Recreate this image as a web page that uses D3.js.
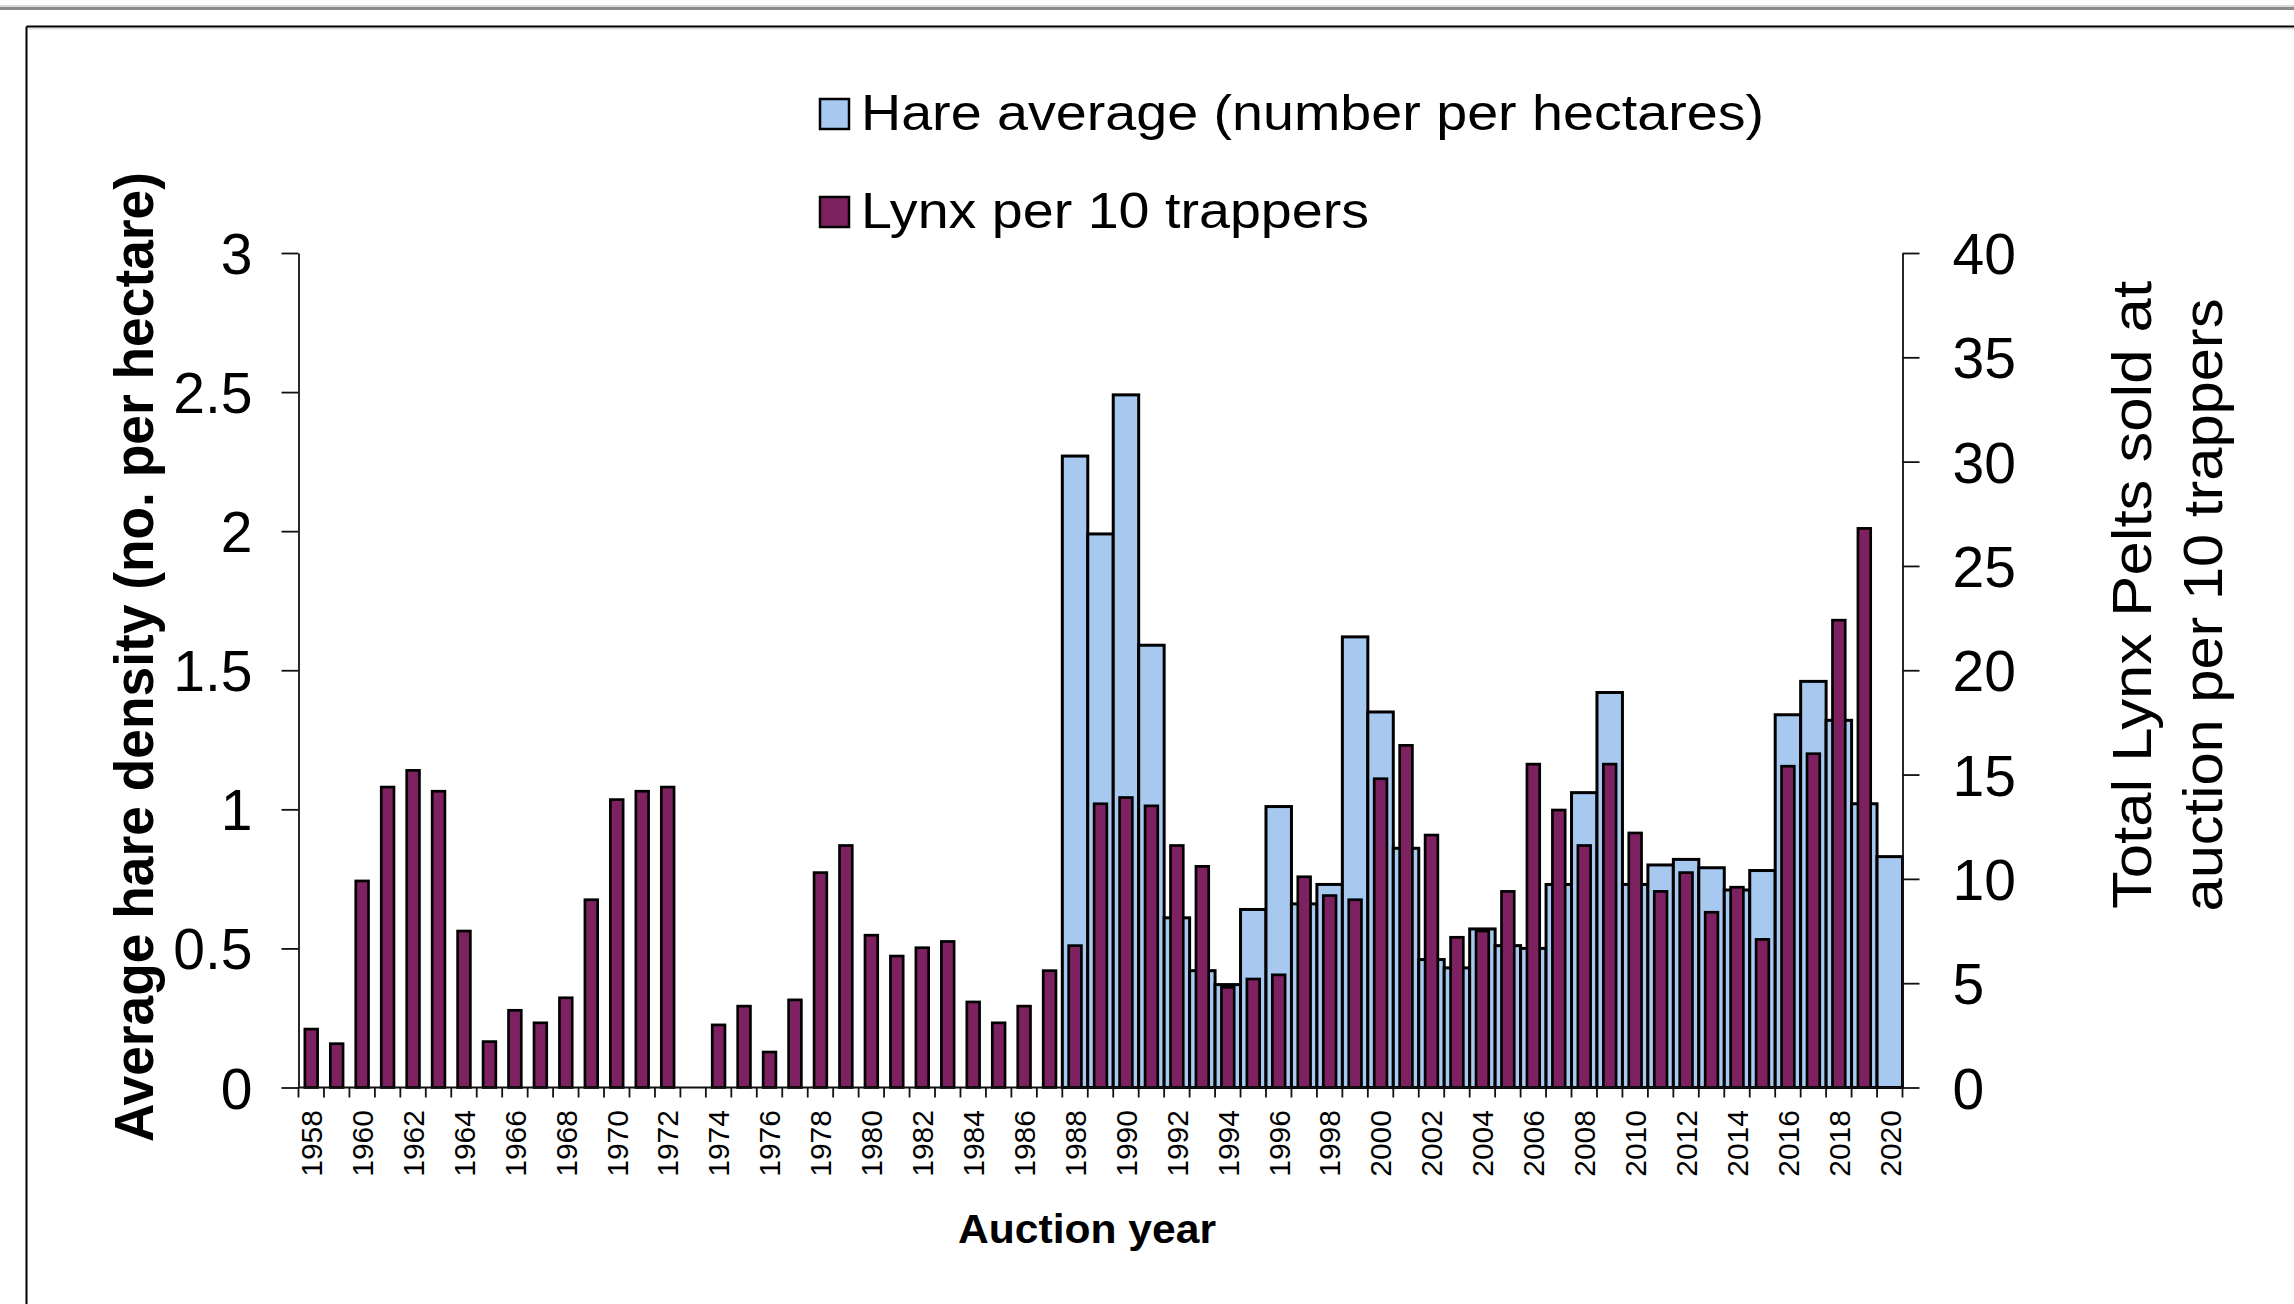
<!DOCTYPE html>
<html><head><meta charset="utf-8">
<script src="https://cdn.jsdelivr.net/npm/d3@7"></script>
<style>
body{margin:0;background:#fff}
svg{display:block}
text{font-family:"Liberation Sans",Arial,sans-serif;fill:#000}
</style>
</head><body>
<svg id="c" width="2294" height="1304"></svg>
<script>
const years = [1958,1959,1960,1961,1962,1963,1964,1965,1966,1967,1968,1969,1970,1971,1972,1973,1974,1975,1976,1977,1978,1979,1980,1981,1982,1983,1984,1985,1986,1987,1988,1989,1990,1991,1992,1993,1994,1995,1996,1997,1998,1999,2000,2001,2002,2003,2004,2005,2006,2007,2008,2009,2010,2011,2012,2013,2014,2015,2016,2017,2018,2019,2020];
// Hare average (number per hectares), left axis
const hare = [null,null,null,null,null,null,null,null,null,null,null,null,null,null,null,null,null,null,null,null,null,null,null,null,null,null,null,null,null,null,
  2.27,1.99,2.49,1.59,0.61,0.42,0.37,0.64,1.01,0.66,0.73,1.62,1.35,0.86,0.46,0.43,0.57,0.51,0.50,0.73,1.06,1.42,0.73,0.80,0.82,0.79,0.71,0.78,1.34,1.46,1.32,1.02,0.83];
// Lynx per 10 trappers, right axis
const lynx = [2.8,2.1,9.9,14.4,15.2,14.2,7.5,2.2,3.7,3.1,4.3,9.0,13.8,14.2,14.4,null,3.0,3.9,1.7,4.2,10.3,11.6,7.3,6.3,6.7,7.0,4.1,3.1,3.9,5.6,
  6.8,13.6,13.9,13.5,11.6,10.6,4.8,5.2,5.4,10.1,9.2,9.0,14.8,16.4,12.1,7.2,7.5,9.4,15.5,13.3,11.6,15.5,12.2,9.4,10.3,8.4,9.6,7.1,15.4,16.0,22.4,26.8,null];
const leftTicks = [0,0.5,1,1.5,2,2.5,3];
const rightTicks = [0,5,10,15,20,25,30,35,40];
const yearLabels = [1958,1960,1962,1964,1966,1968,1970,1972,1974,1976,1978,1980,1982,1984,1986,1988,1990,1992,1994,1996,1998,2000,2002,2004,2006,2008,2010,2012,2014,2016,2018,2020];
const seriesNames = ["Hare average (number per hectares)","Lynx per 10 trappers"];

const HARE_COL = "#a7c9ef", LYNX_COL = "#7e2161";
const svg = d3.select("#c");

// frame decoration
svg.append("rect").attr("x",0).attr("y",5).attr("width",2294).attr("height",2).attr("fill","#d9d9d9");
svg.append("rect").attr("x",0).attr("y",7).attr("width",2294).attr("height",3).attr("fill","#8c8c8c");
svg.append("line").attr("x1",26.5).attr("x2",2294).attr("y1",26.5).attr("y2",26.5).attr("stroke","#000").attr("stroke-width",2);
svg.append("line").attr("x1",28).attr("x2",2294).attr("y1",28.8).attr("y2",28.8).attr("stroke","#d0d0d0").attr("stroke-width",1);
svg.append("line").attr("x1",26.5).attr("x2",26.5).attr("y1",26.5).attr("y2",1304).attr("stroke","#000").attr("stroke-width",2);

const L = 298.5, R = 1902.5, T = 253, B = 1087.5;
const x = d3.scaleBand().domain(years).range([L, R]).padding(0);
const bw = x.bandwidth();
const yL = d3.scaleLinear().domain([0,3]).range([B, T]);
const yR = d3.scaleLinear().domain([0,40]).range([B, T]);

const hareData = years.map((y,i)=>({y, v:hare[i]})).filter(d=>d.v!=null);
const lynxData = years.map((y,i)=>({y, v:lynx[i]})).filter(d=>d.v!=null);

svg.append("g").selectAll("rect").data(hareData).join("rect")
  .attr("x", d=>x(d.y)).attr("width", bw)
  .attr("y", d=>yL(d.v)).attr("height", d=>yL(0)-yL(d.v))
  .attr("fill", HARE_COL).attr("stroke","#000").attr("stroke-width",3);

svg.append("g").selectAll("rect").data(lynxData).join("rect")
  .attr("x", d=>x(d.y)+bw*0.25).attr("width", bw*0.5)
  .attr("y", d=>yR(d.v)).attr("height", d=>yR(0)-yR(d.v))
  .attr("fill", LYNX_COL).attr("stroke","#000").attr("stroke-width",2.7);

// axes
const gl = svg.append("g").attr("transform",`translate(${L},0)`)
  .call(d3.axisLeft(yL).tickValues(leftTicks).tickSize(17).tickSizeOuter(0).tickPadding(29).tickFormat(d=>String(d)));
const gr = svg.append("g").attr("transform",`translate(${R},0)`)
  .call(d3.axisRight(yR).tickValues(rightTicks).tickSize(17).tickSizeOuter(0).tickPadding(33).tickFormat(d=>String(d)));
[gl,gr].forEach(g=>{
  g.selectAll("path,line").attr("stroke","#111").attr("stroke-width",1.8);
  g.selectAll("text").style("font-family",'"Liberation Sans",Arial,sans-serif').style("font-size","57px").attr("fill","#000").attr("dy","0.36em");
});

// x axis
const gx = svg.append("g");
gx.append("line").attr("x1",L).attr("x2",R).attr("y1",B).attr("y2",B).attr("stroke","#111").attr("stroke-width",1.8);
const bounds = years.map(y=>x(y)).concat([x(years[years.length-1])+bw]);
gx.selectAll("line.tk").data(bounds).join("line").attr("class","tk")
  .attr("x1",d=>d).attr("x2",d=>d).attr("y1",B).attr("y2",B+10).attr("stroke","#111").attr("stroke-width",1.8);
gx.selectAll("text").data(yearLabels).join("text")
  .attr("transform", d=>`translate(${x(d)+bw/2},1110) rotate(-90)`)
  .attr("text-anchor","end").attr("dy","0.36em").style("font-size","30px").text(d=>d);

// axis titles
svg.append("text").attr("transform","translate(153,657) rotate(-90)").attr("text-anchor","middle")
  .style("font-size","55px").style("font-weight","bold")
  .attr("textLength",970).attr("lengthAdjust","spacingAndGlyphs")
  .text("Average hare density (no. per hectare)");
svg.append("text").attr("x",1087).attr("y",1243).attr("text-anchor","middle")
  .style("font-size","40px").style("font-weight","bold")
  .attr("textLength",258).attr("lengthAdjust","spacingAndGlyphs")
  .text("Auction year");
svg.append("text").attr("transform","translate(2151,595) rotate(-90)").attr("text-anchor","middle")
  .style("font-size","56px").attr("textLength",628).attr("lengthAdjust","spacingAndGlyphs")
  .text("Total Lynx Pelts sold at");
svg.append("text").attr("transform","translate(2222,605) rotate(-90)").attr("text-anchor","middle")
  .style("font-size","56px").attr("textLength",613).attr("lengthAdjust","spacingAndGlyphs")
  .text("auction  per 10 trappers");

// legend
const leg = [{name:seriesNames[0], col:HARE_COL, y:99, len:903},{name:seriesNames[1], col:LYNX_COL, y:197, len:508}];
const lg = svg.append("g");
lg.selectAll("rect").data(leg).join("rect")
  .attr("x",820).attr("y",d=>d.y).attr("width",29).attr("height",30)
  .attr("fill",d=>d.col).attr("stroke","#000").attr("stroke-width",2.5);
lg.selectAll("text").data(leg).join("text")
  .attr("x",861).attr("y",d=>d.y+31).style("font-size","50px")
  .attr("textLength",d=>d.len).attr("lengthAdjust","spacingAndGlyphs").text(d=>d.name);
</script>
</body></html>
